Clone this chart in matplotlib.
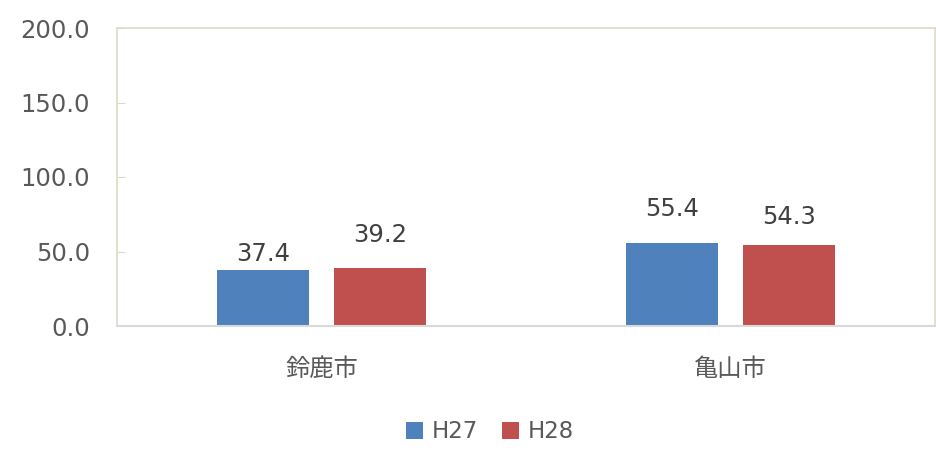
import matplotlib.pyplot as plt
import numpy as np

plt.rcParams['font.family'] = ['DejaVu Sans', 'Noto Sans CJK JP']

categories = ['鈴鹿市', '亀山市']
series_names = ['H27', 'H28']
h27 = [37.4, 55.4]
h28 = [39.2, 54.3]
colors = ['#4F81BD', '#C0504D']
yticks = [0, 50, 100, 150, 200]
# gap (px) between bar top and label baseline, as placed in the original
label_gap_h27 = [9, 27]
label_gap_h28 = [26, 21]

text_color = '#595959'

fig = plt.figure(figsize=(9.36, 4.55), dpi=100)
ax = fig.add_axes([117 / 936, 1 - 326 / 455, 818 / 936, 298 / 455])

x = np.arange(len(categories))
w = 0.225
off = 0.143
for vals, gaps, name, col, dx in zip([h27, h28], [label_gap_h27, label_gap_h28],
                                     series_names, colors, [-off, off]):
    bars = ax.bar(x + dx, vals, w, color=col, label=name, zorder=2)
    for b, v, g in zip(bars, vals, gaps):
        ax.annotate(f'{v:.1f}', (b.get_x() + b.get_width() / 2, v),
                    xytext=(0, g * 0.72), textcoords='offset points',
                    ha='center', va='baseline', fontsize=17.5, color='#404040')

ax.set_xlim(-0.5, len(categories) - 0.5)
ax.set_ylim(0, 200)
ax.set_yticks(yticks)
ax.set_yticklabels([f'{v:.1f}' for v in yticks], fontsize=17.5, color=text_color)
ax.set_xticks(x)
ax.set_xticklabels(categories, fontsize=17.5, color=text_color)

for side in ['top', 'left', 'right']:
    ax.spines[side].set_color('#DDDBC6')
    ax.spines[side].set_linewidth(1.2)
ax.spines['bottom'].set_color('#D9D9D9')
ax.spines['bottom'].set_linewidth(1.5)

ax.tick_params(axis='y', direction='in', length=6, color='#DDDBC6', pad=19.5)
ax.tick_params(axis='x', length=0, pad=22)

leg = fig.legend(loc='center', bbox_to_anchor=(490 / 936, 1 - 432 / 455), ncol=2,
                 frameon=False, fontsize=16.5, handlelength=0.75, handleheight=0.75,
                 handletextpad=0.4, columnspacing=1.0)
for t in leg.get_texts():
    t.set_color(text_color)

fig.savefig('out.png', dpi=100)
